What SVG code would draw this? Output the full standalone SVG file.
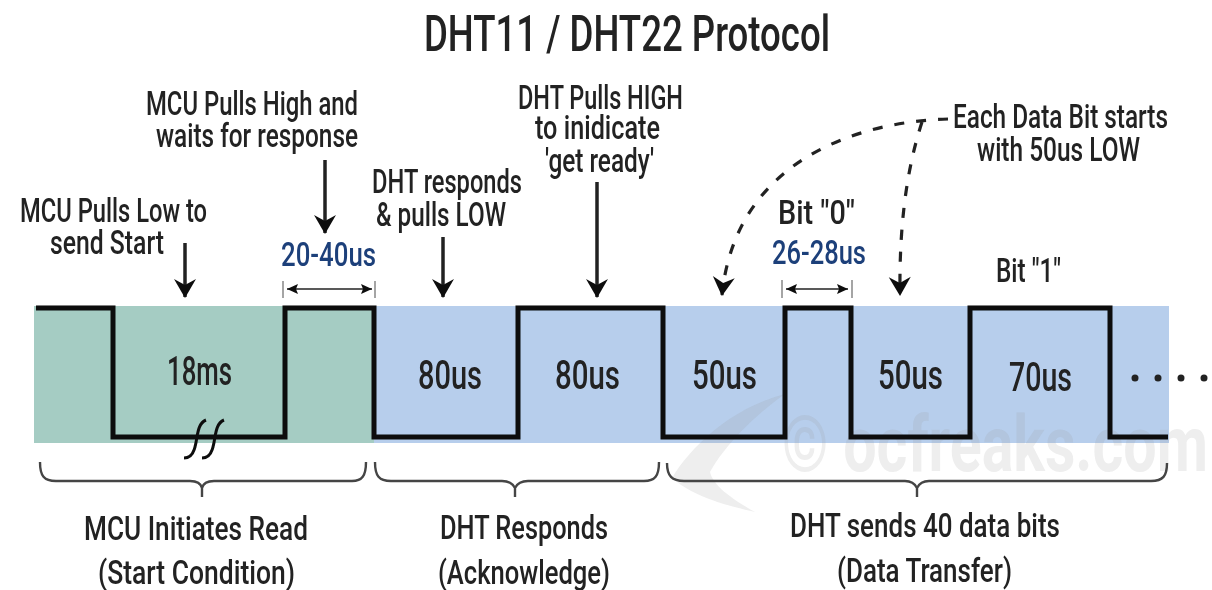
<svg xmlns="http://www.w3.org/2000/svg" width="1212" height="590" viewBox="0 0 1212 590">
<style>
text{font-family:"Roboto","Liberation Sans",sans-serif;fill:#222;font-weight:500}
.t{font-size:33px}
.v{font-size:41px}
.b{fill:#1f3f7a;font-size:33px}
.wire{fill:none;stroke:#0c0c0c;stroke-width:5;stroke-linejoin:miter}
.arr{fill:none;stroke:#222;stroke-width:3.5}
.dim{fill:none;stroke:#222;stroke-width:1.6}
.tick{fill:none;stroke:#888;stroke-width:1.5}
.dash{fill:none;stroke:#222;stroke-width:3.2;stroke-dasharray:10 12}
.br{fill:none;stroke:#444;stroke-width:2.4}
</style>
<defs>
<filter id="soft" x="0" y="0" width="100%" height="100%"><feGaussianBlur stdDeviation="0.6"/></filter>
<marker id="h" markerUnits="userSpaceOnUse" markerWidth="24" markerHeight="24" refX="20" refY="12" orient="auto" viewBox="0 0 24 24"><path d="M2 1L21 12L2 23L8 12Z" fill="#111"/></marker>
<marker id="d" markerUnits="userSpaceOnUse" markerWidth="12" markerHeight="10" refX="11" refY="5" orient="auto-start-reverse" viewBox="0 0 12 10"><path d="M0 0L11 5L0 10L2 5Z" fill="#111"/></marker>
</defs>
<g filter="url(#soft)">
<g id="bands">
<rect x="34" y="306" width="340" height="137" fill="#a5ccc3"/>
<rect x="374" y="306" width="795" height="137" fill="#b7ceec"/>
</g>
<g id="watermark" fill="#999" opacity="0.17">
<path d="M785 394C730 408 690 448 672 478C695 498 730 506 755 512C730 498 713 485 710 472C725 445 755 415 785 394Z"/>
<text transform="translate(782 471) scale(.75 1)" font-size="78" style="fill:#999;font-weight:700" textLength="568" lengthAdjust="spacingAndGlyphs">© ocfreaks.com</text>
</g>
<g id="title"><text x="424" y="51" font-size="50" textLength="406" lengthAdjust="spacingAndGlyphs">DHT11 / DHT22 Protocol</text></g>
<g id="connectors">
<path class="arr" d="M185 243V297" marker-end="url(#h)"/>
<path class="arr" d="M325 160V233" marker-end="url(#h)"/>
<path class="arr" d="M443 237V297" marker-end="url(#h)"/>
<path class="arr" d="M597 182V297" marker-end="url(#h)"/>
<path class="dash" d="M948 119C850 122 735 165 722 295" marker-end="url(#h)"/>
<path class="dash" d="M922 122C908 165 899 220 900 295" marker-end="url(#h)"/>
<path class="tick" d="M283 281V298M375 281V298M782 280V298M852 280V298"/>
<path class="dim" d="M287 289H372" marker-start="url(#d)" marker-end="url(#d)"/>
<path class="dim" d="M786 289H848" marker-start="url(#d)" marker-end="url(#d)"/>
<path class="wire" d="M36 308H113V437H285V308H374V437H518V308H663V437H785V308H851V437H970V308H1110V437H1168"/>
<path d="M206 420C196 424 198 440 194 450C192 456 188 458 184 458M224 420C214 424 216 440 212 450C210 456 206 458 202 458" fill="none" stroke="#111" stroke-width="3"/>
<path class="br" d="M40 462C40 476 44 481 56 481H190C197 481 201 484 202 488C203 484 207 481 214 481H352C362 481 366 476 366 462M202 488V497"/>
<path class="br" d="M375 462C375 476 379 481 391 481H502C509 481 513 484 515 488C517 484 521 481 528 481H644C655 481 659 476 659 462M515 488V497"/>
<path class="br" d="M667 463C667 476 672 481 684 481H905C912 481 915 484 917 488C919 484 922 481 929 481H1151C1163 481 1167 476 1167 463M917 488V497"/>
</g>
<g id="dots" fill="#222"><circle cx="1135" cy="378" r="3.5"/><circle cx="1158" cy="378" r="3.5"/><circle cx="1181" cy="378" r="3.5"/><circle cx="1204" cy="378" r="3.5"/></g>
<g id="label-start"><text class="t" x="20" y="222" textLength="187" lengthAdjust="spacingAndGlyphs">MCU Pulls Low to</text><text class="t" x="50" y="254" textLength="114" lengthAdjust="spacingAndGlyphs">send Start</text></g>
<g id="label-high"><text class="t" x="146" y="115" textLength="212" lengthAdjust="spacingAndGlyphs">MCU Pulls High and</text><text class="t" x="156" y="147" textLength="202" lengthAdjust="spacingAndGlyphs">waits for response</text></g>
<g id="label-responds"><text class="t" x="372" y="193" textLength="150" lengthAdjust="spacingAndGlyphs">DHT responds</text><text class="t" x="376" y="226" textLength="130" lengthAdjust="spacingAndGlyphs">&amp; pulls LOW</text></g>
<g id="label-ready"><text class="t" x="518" y="109" textLength="165" lengthAdjust="spacingAndGlyphs">DHT Pulls HIGH</text><text class="t" x="535" y="139" textLength="125" lengthAdjust="spacingAndGlyphs">to inidicate</text><text class="t" x="545" y="172" textLength="109" lengthAdjust="spacingAndGlyphs">'get ready'</text></g>
<g id="label-each"><text class="t" transform="translate(953 128) scale(.74 1)" textLength="290.5" lengthAdjust="spacingAndGlyphs">Each Data Bit starts</text><text class="t" x="977" y="161" textLength="163" lengthAdjust="spacingAndGlyphs">with 50us LOW</text></g>
<g id="label-bits"><text class="t" x="778" y="224" textLength="77" lengthAdjust="spacingAndGlyphs">Bit "0"</text><text class="b" x="772" y="264" textLength="94" lengthAdjust="spacingAndGlyphs">26-28us</text><text class="b" x="281" y="266" textLength="95" lengthAdjust="spacingAndGlyphs">20-40us</text><text class="t" x="996" y="282" textLength="65" lengthAdjust="spacingAndGlyphs">Bit "1"</text></g>
<g id="values">
<text class="v" x="167" y="385" textLength="65" lengthAdjust="spacingAndGlyphs">18ms</text>
<text class="v" x="418" y="389" textLength="64" lengthAdjust="spacingAndGlyphs">80us</text>
<text class="v" x="555" y="389" textLength="65" lengthAdjust="spacingAndGlyphs">80us</text>
<text class="v" x="692" y="389" textLength="65" lengthAdjust="spacingAndGlyphs">50us</text>
<text class="v" x="878" y="389" textLength="65" lengthAdjust="spacingAndGlyphs">50us</text>
<text class="v" x="1009" y="391" textLength="63" lengthAdjust="spacingAndGlyphs">70us</text>
</g>
<g id="label-bottom">
<text class="t" x="84" y="540" textLength="224" lengthAdjust="spacingAndGlyphs">MCU Initiates Read</text>
<text class="t" x="98" y="584" textLength="197" lengthAdjust="spacingAndGlyphs">(Start Condition)</text>
<text class="t" x="440" y="539" textLength="168" lengthAdjust="spacingAndGlyphs">DHT Responds</text>
<text class="t" x="438" y="584" textLength="172" lengthAdjust="spacingAndGlyphs">(Acknowledge)</text>
<text class="t" x="790" y="537" textLength="270" lengthAdjust="spacingAndGlyphs">DHT sends 40 data bits</text>
<text class="t" x="837" y="582" textLength="175" lengthAdjust="spacingAndGlyphs">(Data Transfer)</text>
</g>
</g>
</svg>
